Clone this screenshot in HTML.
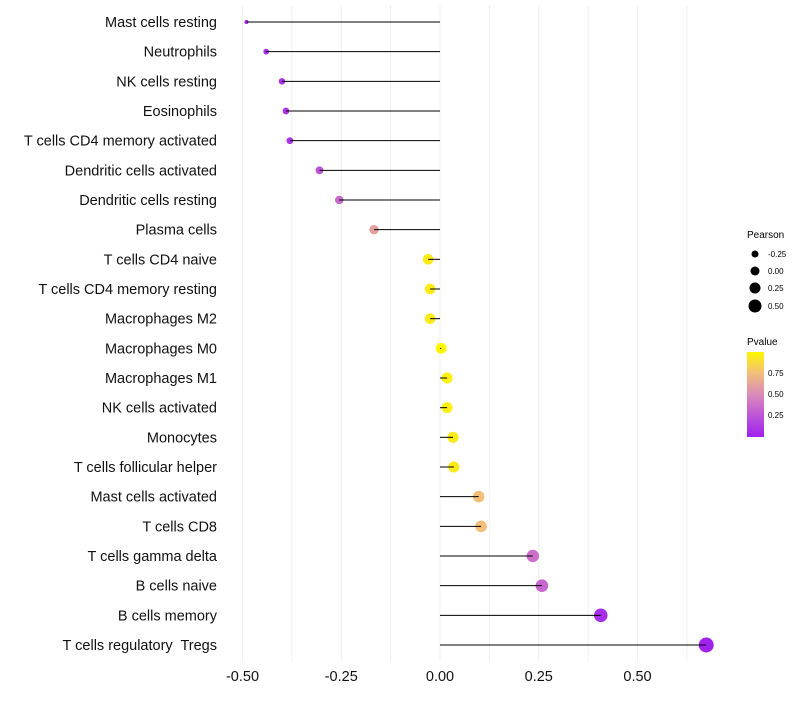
<!DOCTYPE html>
<html><head><meta charset="utf-8"><style>
body{margin:0;background:#fff;font-family:"Liberation Sans",sans-serif;}
text{white-space:pre;}
</style></head><body>
<svg id="chart" width="800" height="700" xmlns="http://www.w3.org/2000/svg">
<defs><linearGradient id="pg" x1="0" y1="1" x2="0" y2="0">
<stop offset="0" stop-color="#A020F0"/><stop offset="0.25" stop-color="#BD55D8"/><stop offset="0.5" stop-color="#D98AB8"/><stop offset="0.75" stop-color="#F2BE7A"/><stop offset="1" stop-color="#FFF600"/>
</linearGradient></defs>
<g id="grid"></g><g id="dots"></g><g id="marks"></g><g id="labels"></g>
<g font-size="9">
<text x="747" y="238" font-size="10">Pearson</text>
<circle cx="755" cy="254" r="3.5"/><text x="768" y="257" font-size="8">-0.25</text>
<circle cx="755" cy="271" r="4.5"/><text x="768" y="274" font-size="8">0.00</text>
<circle cx="755" cy="288" r="5.5"/><text x="768" y="291" font-size="8">0.25</text>
<circle cx="755" cy="306" r="6.5"/><text x="768" y="309" font-size="8">0.50</text>
</g>
<g>
<text x="747" y="345" font-size="10">Pvalue</text>
<rect x="747" y="352" width="17" height="85" fill="url(#pg)"/>
<text x="768" y="376" font-size="8">0.75</text>
<text x="768" y="397" font-size="8">0.50</text>
<text x="768" y="418" font-size="8">0.25</text>
</g>
</svg>
<script>
const cells=["Mast cells resting","Neutrophils","NK cells resting","Eosinophils","T cells CD4 memory activated","Dendritic cells activated","Dendritic cells resting","Plasma cells","T cells CD4 naive","T cells CD4 memory resting","Macrophages M2","Macrophages M0","Macrophages M1","NK cells activated","Monocytes","T cells follicular helper","Mast cells activated","T cells CD8","T cells gamma delta","B cells naive","B cells memory","T cells regulatory  Tregs"];
const pearson=[-0.49,-0.44,-0.40,-0.39,-0.38,-0.305,-0.255,-0.167,-0.03,-0.025,-0.025,0.003,0.018,0.018,0.033,0.035,0.098,0.104,0.235,0.258,0.407,0.674];
const pvalue=[0.02,0.05,0.08,0.1,0.1,0.25,0.35,0.6,0.95,0.95,0.95,1.0,0.97,0.97,0.95,0.95,0.75,0.75,0.38,0.33,0.07,0.01];
const xTicks=[-0.5,-0.25,0,0.25,0.5];
const xTickLabels=["-0.50","-0.25","0.00","0.25","0.50"];
const NS="http://www.w3.org/2000/svg";
const xs=v=>440+v*395;
const ys=i=>22+i*(623/21);
const rs=v=>1.5+6*Math.sqrt(Math.max(0,(v+0.5)/1.17));
function col(p){
 const st=[[0,[160,32,240]],[0.25,[189,85,216]],[0.5,[217,138,184]],[0.75,[242,190,122]],[1,[255,246,0]]];
 for(let k=1;k<st.length;k++){if(p<=st[k][0]){const a=st[k-1],b=st[k],t=(p-a[0])/(b[0]-a[0]);
 return "rgb("+a[1].map((c,j)=>Math.round(c+(b[1][j]-c)*t)).join(",")+")";}}
 return "rgb(255,246,0)";}
function mk(tag,at,parent){const e=document.createElementNS(NS,tag);for(const k in at)e.setAttribute(k,at[k]);document.getElementById(parent).appendChild(e);return e;}
for(let g=-0.5;g<=0.625+1e-9;g+=0.125){
 const l=mk("line",{x1:xs(g),x2:xs(g),y1:5,y2:661,stroke:"#efefef","stroke-width":1},"grid");
 
 
}
xTicks.forEach((t,i)=>{
 const e=mk("text",{x:xs(t),y:681,"text-anchor":"middle","font-size":14.5,fill:"#111"},"labels");
 e.textContent=xTickLabels[i];
 
 
});
cells.forEach((c,i)=>{
 const y=ys(i);
 const t=mk("text",{x:217,y:y+5,"text-anchor":"end","font-size":14.5,fill:"#111"},"labels");
 t.textContent=c;
 
 
 const d=mk("circle",{cx:xs(pearson[i]),cy:y,r:rs(pearson[i]),fill:col(pvalue[i])},"dots");
 
 
 const l=mk("line",{x1:xs(0),x2:xs(pearson[i]),y1:y,y2:y,stroke:"#000","stroke-width":1},"marks");
 
 
});
</script>
</body></html>
